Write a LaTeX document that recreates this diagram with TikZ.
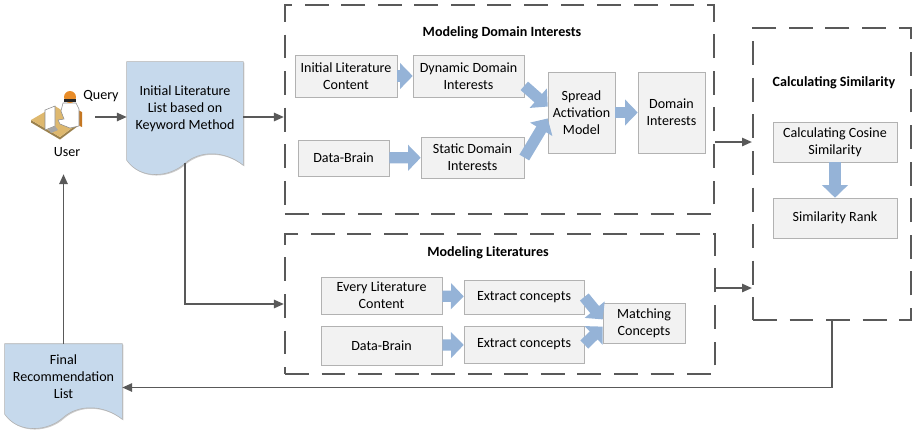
\documentclass[tikz,border=0pt]{standalone}
\usepackage{fontspec}
\setmainfont{Carlito}
\usepackage{tikz}
\usetikzlibrary{arrows.meta,positioning,calc,shadows,backgrounds}

\definecolor{boxgray}{RGB}{242,242,242}
\definecolor{docblue}{RGB}{198,217,236}
\definecolor{fatblue}{RGB}{149,179,215}
\definecolor{linegray}{RGB}{89,89,89}
\definecolor{deskbrown}{RGB}{222,184,110}
\definecolor{headorange}{RGB}{232,140,40}

% document outline with a wavy bottom, hung on the node's anchors
\newcommand{\docoutline}[1]{%
  \filldraw[docbox] (#1.north west) -- (#1.north east) -- ($(#1.south east)+(0,10)$)
    .. controls +(-19,-15) and +(15,-13) .. ($(#1.south)+(0,8)$)
    .. controls +(-15,14) and +(14,20) .. ($(#1.south west)+(0,5)$) -- cycle;}

\begin{document}
\begin{tikzpicture}[
  x=0.025cm, y=-0.025cm,
  font=\fontsize{10}{12}\selectfont,
  block/.style={rectangle, draw=black!30, fill=boxgray, align=center, inner sep=1pt,
    drop shadow={shadow xshift=0.7pt, shadow yshift=-0.7pt, fill=black, opacity=0.2}},
  docbody/.style={rectangle, align=center, inner sep=0pt},
  docbox/.style={fill=docblue, draw=black!30,
    drop shadow={shadow xshift=0.7pt, shadow yshift=-0.7pt, fill=black, opacity=0.2}},
  groupbox/.style={rectangle, draw=linegray, line width=1.6pt, dash pattern=on 17pt off 9pt, inner sep=0pt},
  grouptitle/.style={font=\fontsize{10}{12}\selectfont\bfseries},
  arrow/.style={-{Triangle[length=7pt,width=6pt]}, line width=1pt, draw=linegray},
  fatarrow/.style={-{Triangle[length=9pt,width=18pt]}, line width=8pt, draw=fatblue}
]
\useasboundingbox (0,0) rectangle (912,437);

% user at the desk
\node[inner sep=0pt, minimum width=1.65cm, minimum height=1.1cm] (usericon) at (62,117) {};
\fill[deskbrown!70!black] (31,120) -- (60,137) -- (80,122) -- (80,124.5) -- (60,139.5) -- (31,122.5) -- cycle;
\fill[deskbrown] (31,120) -- (55,106) -- (80,122) -- (60,137) -- cycle;
\filldraw[fill=white, draw=black!45, line width=0.4pt] (45,110) -- (55,106) -- (55,126) -- (45,130) -- cycle;
\fill[black!35] (48,129) -- (55,126) -- (58,130) -- (51,133) -- cycle;
\fill[headorange!85!black] (78,110) -- (82,112) -- (82,127) -- (78,125) -- cycle;
\filldraw[fill=white, draw=black!45, line width=0.4pt] (63,103) -- (76,103) -- (79,109) -- (79,126)
  -- (70,128) -- (60,124) -- (58,120) -- (64,119) -- (61,111) -- cycle;
\fill[headorange] (70,97) circle (6);
\fill[black!85] (64,99) rectangle (76,102);
\node[inner sep=1pt] (user) at (67,152) {User};
\node (query) at (101,96) {Query};

% literature lists
\node[docbody, minimum width=2.9cm, minimum height=2.325cm] (initlist) at (185,108.5)
  {Initial Literature\\List based on\\Keyword Method};
\node[docbody, minimum width=2.925cm, minimum height=1.625cm] (finallist) at (63.5,376.5)
  {Final\\Recommendation\\List};
\begin{scope}[on background layer]
  \docoutline{initlist}
  \docoutline{finallist}
\end{scope}

% modeling domain interests
\node[groupbox, minimum width=10.725cm, minimum height=5.225cm] (domainbox) at (499.5,109.5) {};
\node[grouptitle] (domaintitle) at (502,33) {Modeling Domain Interests};
\node[block, minimum width=2.55cm, minimum height=1.05cm] (initcontent) at (346,76) {Initial Literature\\Content};
\node[block, minimum width=2.775cm, minimum height=1.05cm] (dynamic) at (468.5,76) {Dynamic Domain\\Interests};
\node[block, minimum width=2.275cm, minimum height=0.9cm] (databrain) at (343.5,158) {Data-Brain};
\node[block, minimum width=2.575cm, minimum height=1.025cm] (static) at (472.5,157.5) {Static Domain\\Interests};
\node[block, minimum width=1.675cm, minimum height=2.025cm] (spread) at (581.5,112.5) {Spread\\Activation\\Model};
\node[block, minimum width=1.675cm, minimum height=2.025cm] (interests) at (671.5,112.5) {Domain\\Interests};

% modeling literatures
\node[groupbox, minimum width=10.75cm, minimum height=3.5cm] (litbox) at (500,304) {};
\node[grouptitle] (littitle) at (488,253) {Modeling Literatures};
\node[block, minimum width=3.025cm, minimum height=0.925cm] (everylit) at (381.5,295.5) {Every Literature\\Content};
\node[block, minimum width=3cm, minimum height=0.85cm] (extracta) at (524,297) {Extract concepts};
\node[block, minimum width=3.025cm, minimum height=0.975cm] (databrainb) at (381.5,345.5) {Data-Brain};
\node[block, minimum width=3cm, minimum height=0.925cm] (extractb) at (524,344.5) {Extract concepts};
\node[block, minimum width=2.05cm, minimum height=1cm] (matching) at (644,323) {Matching\\Concepts};

% calculating similarity
\node[groupbox, minimum width=3.95cm, minimum height=7.3cm] (simbox) at (832,174) {};
\node[grouptitle] (simtitle) at (834,83) {Calculating Similarity};
\node[block, minimum width=3.1cm, minimum height=1cm] (cosine) at (835,142) {Calculating Cosine\\Similarity};
\node[block, minimum width=3.1cm, minimum height=1cm] (rank) at (835,218) {Similarity Rank};

\draw[fatarrow] (initcontent) -- (dynamic);
\draw[fatarrow] (databrain) -- (static);
\draw[fatarrow] (dynamic.-10) -- (spread.170);
\draw[fatarrow] (static.east) -- (spread.190);
\draw[fatarrow] (spread) -- (interests);
\draw[fatarrow] (everylit) -- (extracta);
\draw[fatarrow] (databrainb) -- (extractb);
\draw[fatarrow] (extracta.east) -- (matching.175);
\draw[fatarrow] (extractb.east) -- (matching.185);
\draw[fatarrow] (cosine) -- (rank);

\draw[arrow] (usericon.east) -- (usericon.east -| initlist.west);
\draw[arrow] (initlist.east |- usericon) -- (domainbox.west |- usericon);
\draw[arrow] ($(initlist.south)+(0,8)$) |- (litbox.west);
\draw[arrow] (domainbox.east |- cosine) -- (simbox.west |- cosine);
\draw[arrow] ($(litbox.east)+(0,-16)$) -- ($(simbox.west |- litbox.east)+(0,-16)$);
\draw[arrow] (simbox.south) |- ($(finallist.east)+(0,11)$);
\draw[arrow, shorten >=0.4cm] (finallist.north) -- (finallist.north |- user.south);
\end{tikzpicture}
\end{document}
